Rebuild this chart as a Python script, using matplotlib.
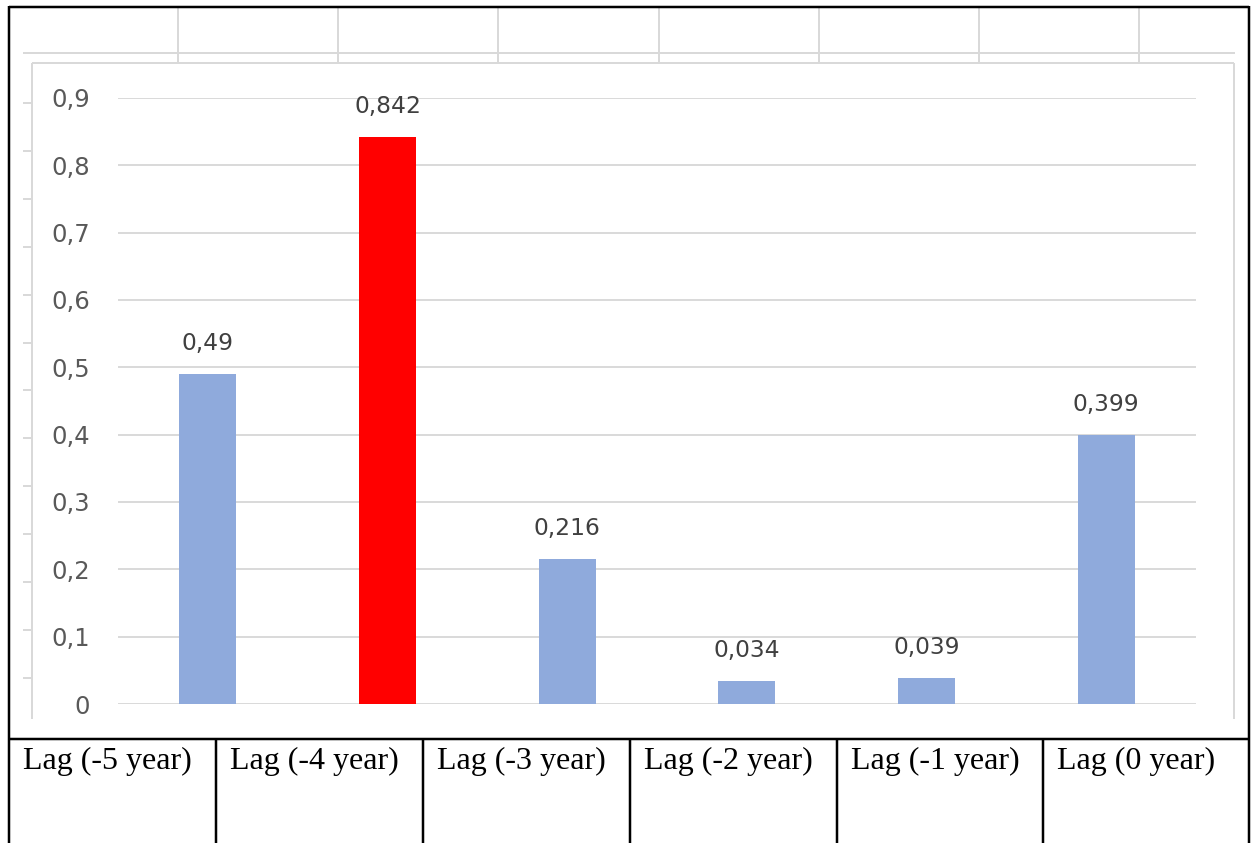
import numpy as np
import matplotlib.pyplot as plt
from matplotlib.lines import Line2D
from matplotlib.ticker import FuncFormatter

# Lag values and labels
lags = ["Lag (-5 year)", "Lag (-4 year)", "Lag (-3 year)",
        "Lag (-2 year)", "Lag (-1 year)", "Lag (0 year)"]
values = [0.49, 0.842, 0.216, 0.034, 0.039, 0.399]
value_text = ["0,49", "0,842", "0,216", "0,034", "0,039", "0,399"]
colors = ["#8faadc", "#ff0000", "#8faadc", "#8faadc", "#8faadc", "#8faadc"]
yticks = [0, 0.1, 0.2, 0.3, 0.4, 0.5, 0.6, 0.7, 0.8, 0.9]

W, H = 1251, 843
fig = plt.figure(figsize=(W / 100, H / 100), dpi=100)

# background layer in pixel coordinates for the table and frame lines
bg = fig.add_axes([0, 0, 1, 1])
bg.set_xlim(0, W)
bg.set_ylim(H, 0)
bg.axis("off")

def seg(x0, y0, x1, y1, color="black", lw=2.0):
    bg.add_line(Line2D([x0, x1], [y0, y1], color=color, lw=lw * 0.72,
                       solid_capstyle="butt"))

grey = "#d9d9d9"
# faint table grid behind the chart
seg(23, 53, 1235, 53, grey, 2)
for x in [178, 338, 498, 659, 819, 979, 1139]:
    seg(x, 7, x, 63, grey, 2)
# chart area border
seg(32, 63, 1234, 63, grey, 2)
seg(32, 63, 32, 719, grey, 2)
seg(1234, 63, 1234, 719, grey, 2)
for y in np.arange(103, 680, 47.9):
    seg(23, y, 32, y, grey, 2)

# outer table frame and the label row
seg(9, 7, 1249, 7, "black", 2.5)
seg(9, 6, 9, H, "black", 2.5)
seg(1249, 6, 1249, H, "black", 2.5)
seg(9, 739, 1249, 739, "black", 2.5)
col_edges = [9, 216, 423, 630, 837, 1043, 1249]
for x in col_edges[1:-1]:
    seg(x, 739, x, H, "black", 2.5)
for i, lab in enumerate(lags):
    bg.text(col_edges[i] + 14, 761, lab, family="Liberation Serif",
            fontsize=23, color="black", ha="left", va="center")

# bar chart
ax = fig.add_axes([118 / W, (H - 704) / H, (1196 - 118) / W, (704 - 98) / H])
ax.patch.set_alpha(0)
x = np.arange(len(values))
ax.bar(x, values, width=0.317, color=colors, zorder=3)
ax.set_xlim(-0.5, len(values) - 0.5)
ax.set_ylim(0, 0.9)
ax.set_yticks(yticks)
ax.yaxis.set_major_formatter(FuncFormatter(lambda v, p: f"{v:.1f}".replace(".", ",") if v else "0"))
ax.grid(axis="y", color=grey, lw=1.4, zorder=0)
ax.set_xticks([])
for s in ax.spines.values():
    s.set_visible(False)
ax.tick_params(axis="y", length=0, pad=20, labelsize=17.5, labelcolor="#595959")
for i, (v, t) in enumerate(zip(values, value_text)):
    ax.annotate(t, (i, v), xytext=(0, 22), textcoords="offset points",
                ha="center", va="center", fontsize=16.8, color="#404040")

fig.savefig("out.png", dpi=100)
